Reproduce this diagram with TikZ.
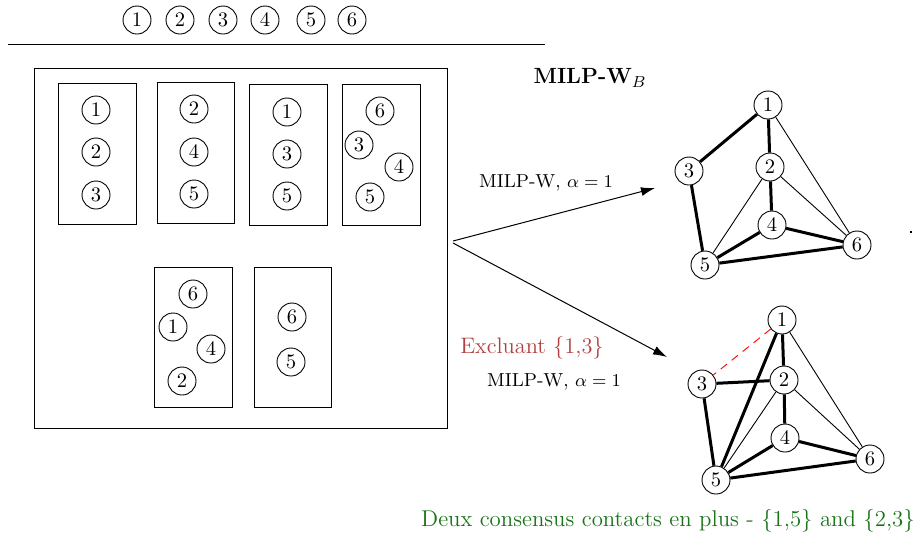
\documentclass[tikz,border=0pt]{standalone}
\usetikzlibrary{arrows.meta}
\definecolor{exred}{rgb}{0.7,0.25,0.25}
\definecolor{okgreen}{rgb}{0.1,0.45,0.1}
\begin{document}
\begin{tikzpicture}[x=0.5pt,y=-0.5pt,
  cn/.style={circle,draw,line width=0.45pt,minimum size=14pt,inner sep=0pt,font=\fontsize{10.3}{12}\selectfont},
  grp/.style={draw,line width=0.5pt},
  thk/.style={line width=1.5pt},
  thn/.style={line width=0.45pt},
  lbl/.style={font=\fontsize{9.4}{11}\selectfont},
  arr/.style={-{Latex[length=7pt,width=4.5pt]},line width=0.5pt}]
\useasboundingbox (0,0) rectangle (919,538);
% top row
\node[cn] (t1) at (137,20) {1};
\node[cn] (t2) at (180,20) {2};
\node[cn] (t3) at (223,20) {3};
\node[cn] (t4) at (265,20) {4};
\node[cn] (t5) at (311,20) {5};
\node[cn] (t6) at (352,20) {6};
\coordinate (hl) at (8,44);
\coordinate (hr) at (545,44);
\draw[line width=0.5pt] (hl) -- (hr);
% big box
\draw[grp] (34,68) rectangle (447,428);
% inner boxes
\draw[grp] (58,83) rectangle (136,224);
\draw[grp] (157,82) rectangle (234,223);
\draw[grp] (249,84) rectangle (327,225);
\draw[grp] (342,84) rectangle (420,225);
\draw[grp] (154,267) rectangle (232,407);
\draw[grp] (254,267) rectangle (331,407);
\node[cn] (a1) at (96,110) {1};
\node[cn] (a2) at (96,152) {2};
\node[cn] (a3) at (96,195) {3};
\node[cn] (b2) at (194,109) {2};
\node[cn] (b4) at (194,152) {4};
\node[cn] (b5) at (194,194) {5};
\node[cn] (c1) at (287,112) {1};
\node[cn] (c3) at (287,154) {3};
\node[cn] (c5) at (287,196) {5};
\node[cn] (d6) at (380,111) {6};
\node[cn] (d3) at (359,145) {3};
\node[cn] (d4) at (399,167) {4};
\node[cn] (d5) at (370,197) {5};
\node[cn] (e6) at (193,294) {6};
\node[cn] (e1) at (173,327) {1};
\node[cn] (e4) at (211,349) {4};
\node[cn] (e2) at (182,381) {2};
\node[cn] (f6) at (292,317) {6};
\node[cn] (f5) at (291,362) {5};
% title
\node[font=\fontsize{11}{13}\selectfont\bfseries] (title) at (590,78) {MILP-W$_B$};
% arrows
\coordinate (src1) at (453,241);
\coordinate (src2) at (453,243);
\coordinate (dst1) at (655,188);
\coordinate (dst2) at (667,357);
\draw[arr] (src1) -- (dst1);
\draw[arr] (src2) -- (dst2);
\node[lbl] (l1) at (546,183) {MILP-W, $\alpha=1$};
\node[lbl] (l2) at (554,382) {MILP-W, $\alpha=1$};
\node[font=\fontsize{11.2}{13}\selectfont,text=exred] (excl) at (532,348) {Excluant \{1,3\}};
\node[font=\fontsize{11.4}{13}\selectfont,text=okgreen] (green) at (668,521) {Deux consensus contacts en plus - \{1,5\} and \{2,3\}};
% graph 1
\node[cn] (g1) at (768,105) {1};
\node[cn] (g2) at (770,167) {2};
\node[cn] (g3) at (689,171) {3};
\node[cn] (g4) at (772,225) {4};
\node[cn] (g5) at (705,265) {5};
\node[cn] (g6) at (857,245) {6};
\draw[thk] (g1) -- (g3);
\draw[thk] (g1) -- (g2);
\draw[thk] (g3) -- (g5);
\draw[thk] (g2) -- (g4);
\draw[thk] (g4) -- (g5);
\draw[thk] (g4) -- (g6);
\draw[thk] (g5) -- (g6);
\draw[thn] (g1) -- (g6);
\draw[thn] (g2) -- (g5);
\draw[thn] (g2) -- (g6);
% graph 2
\node[cn] (h1) at (782,320) {1};
\node[cn] (h2) at (784,380) {2};
\node[cn] (h3) at (702,384) {3};
\node[cn] (h4) at (785,438) {4};
\node[cn] (h5) at (716,480) {5};
\node[cn] (h6) at (870,459) {6};
\draw[red,line width=0.45pt,dash pattern=on 4pt off 3pt] (h1) -- (h3);
\draw[thk] (h1) -- (h5);
\draw[thk] (h1) -- (h2);
\draw[thk] (h3) -- (h2);
\draw[thk] (h3) -- (h5);
\draw[thk] (h2) -- (h4);
\draw[thk] (h4) -- (h5);
\draw[thk] (h4) -- (h6);
\draw[thk] (h5) -- (h6);
\draw[thn] (h1) -- (h6);
\draw[thn] (h2) -- (h5);
\draw[thn] (h2) -- (h6);
% stray dot
\fill (910,231) rectangle (912,233);
\end{tikzpicture}
\end{document}
